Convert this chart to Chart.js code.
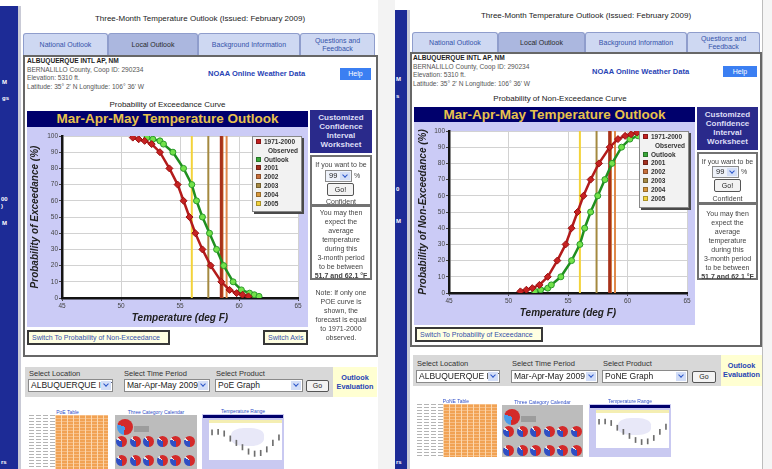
<!DOCTYPE html>
<html lang="en">
<head>
<meta charset="UTF-8">
<title>Three-Month Temperature Outlook</title>
<script src="https://cdn.jsdelivr.net/npm/chart.js@4.4.1/dist/chart.umd.min.js"></script>
<style>
  * { box-sizing: border-box; font-family: "Liberation Sans", Arial, sans-serif; }
  body { margin: 0; width: 772px; height: 469px; overflow: hidden; position: relative; background: #fff; }
  .a { position: absolute; }
  .side { background: #1d2b96; }
  .edge { background: #c9cad6; }
  .stx { color: #fff; font-size: 6px; font-weight: bold; line-height: 7px; }
  .ttl { font-size: 8px; color: #222; text-align: center; white-space: nowrap; }
  .tab { background: #ced8f2; border: 1px solid #8f9dcc; border-bottom: 0; border-radius: 3px 3px 0 0; color: #3553aa; font-size: 7px; line-height: 8px; text-align: center; display: flex; align-items: center; justify-content: center; }
  .tab.on { background: #abb7df; color: #2a2a2a; }
  .box { border: 2px solid #676767; }
  .info { font-size: 6.6px; line-height: 8.5px; color: #555; white-space: nowrap; }
  .info b { color: #1e1e1e; }
  .noaa { font-size: 7.5px; font-weight: bold; color: #2743b5; white-space: nowrap; }
  .help { background: #3b7ff2; color: #fff; font-size: 7px; text-align: center; line-height: 12px; }
  .cap { font-size: 8px; color: #222; text-align: center; white-space: nowrap; }
  .bar { background: #00006c; color: #e8c24c; font-size: 13.5px; font-weight: bold; text-align: center; white-space: nowrap; }
  canvas.plot { position: absolute; background: #cbcbf6; }
  .lg { background: #f2f2f2; border: 1px solid #888; box-shadow: 2px 2px 0 #4a4a4a; font-size: 6.5px; font-weight: bold; color: #333; line-height: 8.8px; padding: 1px 0 0 3px; white-space: nowrap; }
  .lg i { display: inline-block; width: 5px; height: 5px; margin-right: 3px; border: 1px solid rgba(0,0,0,.3); }
  .ci { background: #2a2a8b; color: #dedef6; font-size: 8px; font-weight: bold; line-height: 9px; text-align: center; padding-top: 3px; }
  .cib { border: 2px solid #727272; background: #fff; font-size: 7px; line-height: 9px; color: #444; text-align: center; }
  .note { font-size: 7px; line-height: 9px; color: #444; text-align: center; }
  .sw { background: #ffffe2; border: 2px solid #383838; color: #3451a9; font-size: 7px; line-height: 11px; padding-left: 3px; white-space: nowrap; }
  .band { background: #d8d8d8; }
  .lb { font-size: 7.5px; color: #333; white-space: nowrap; }
  .sel { background: #fff; border: 1px solid #8a8a8a; font-size: 8.5px; line-height: 11px; color: #222; padding-left: 2px; white-space: nowrap; overflow: hidden; text-align: left; }
  .sel.sm { font-size: 7.5px; line-height: 10px; background: #eef2fa; padding-left: 3px; }
  .arr { position: absolute; right: 1px; top: 1px; bottom: 1px; width: 10px; background: #d3def7; }
  .arr::after { content: ''; position: absolute; left: 3px; top: 1px; width: 3px; height: 3px; border-right: 1.5px solid #2a55c9; border-bottom: 1.5px solid #2a55c9; transform: rotate(45deg); }
  .go { background: #f3f3f3; border: 1px solid #555; border-radius: 2px; font-size: 7px; text-align: center; color: #222; }
  .eval { background: #ffffd2; color: #2744b5; font-size: 7.3px; font-weight: bold; text-align: center; line-height: 9px; padding-top: 6px; }
  .tl { font-size: 5px; color: #3250c8; text-align: center; white-space: nowrap; }
</style>
</head>
<body>

<!-- left page -->
<div class="a side" style="left:0;top:6px;width:18px;height:463px"></div>
<div class="a edge" style="left:18px;top:6px;width:3px;height:463px"></div>
<div class="a stx" style="left:2px;top:79px">M</div>
<div class="a stx" style="left:2px;top:95px">gs</div>
<div class="a stx" style="left:1px;top:196px">00<br>)</div>
<div class="a stx" style="left:2px;top:220px">M</div>
<div class="a stx" style="left:1px;top:459px">rs</div>
<div class="a" style="left:378px;top:0;width:17px;height:469px;background:#f3f3f3"></div>

<div class="a ttl" style="left:23px;top:14px;width:354px">Three-Month Temperature Outlook (Issued: February 2009)</div>
<div class="a tab" style="left:23px;top:33px;width:85px;height:22px">National Outlook</div>
<div class="a tab on" style="left:108px;top:33px;width:90px;height:22px">Local Outlook</div>
<div class="a tab" style="left:198px;top:33px;width:102px;height:22px">Background Information</div>
<div class="a tab" style="left:300px;top:33px;width:75px;height:22px">Questions and<br>Feedback</div>
<div class="a box" style="left:23px;top:55px;width:355px;height:302px"></div>
<div class="a info" style="left:27px;top:57px"><b>ALBUQUERQUE INTL AP, NM</b><br>BERNALILLO County, Coop ID: 290234<br>Elevation: 5310 ft.<br>Latitude: 35° 2' N Longitude: 106° 36' W</div>
<div class="a noaa" style="left:208px;top:69px">NOAA Online Weather Data</div>
<div class="a help" style="left:340px;top:68px;width:31px;height:12px">Help</div>
<div class="a cap" style="left:27px;top:100px;width:281px">Probability of Exceedance Curve</div>
<div class="a bar" style="left:27px;top:111px;width:281px;height:16px;line-height:16px">Mar-Apr-May Temperature Outlook</div>
<canvas id="poe" class="plot" width="281" height="200" style="left:27px;top:127px"></canvas>
<div id="poeLegend" class="a lg" style="left:252px;top:136px;width:50px;height:76px"></div>

<div class="a ci" style="left:310px;top:110px;width:62px;height:43px">Customized<br>Confidence<br>Interval<br>Worksheet</div>
<div class="a cib" style="left:310px;top:155px;width:62px;height:51px">
  <div class="a" style="left:0;top:3px;width:58px">If you want to be</div>
  <div class="a sel sm" style="left:13px;top:13px;width:27px;height:12px">99<span class="arr"></span></div>
  <div class="a" style="left:42px;top:14px">%</div>
  <div class="a go" style="left:15px;top:26px;width:27px;height:13px;line-height:11px">Go!</div>
  <div class="a" style="left:0;top:40px;width:58px">Confident</div>
</div>
<div class="a cib" style="left:310px;top:205px;width:62px;height:75px;padding-top:1px">You may then<br>expect the<br>average<br>temperature<br>during this<br>3-month period<br>to be between<br><b>51.7 and 62.1 °F</b></div>
<div class="a note" style="left:310px;top:288px;width:62px">Note: If only one<br>POE curve is<br>shown, the<br>forecast is equal<br>to 1971-2000<br>observed.</div>

<div class="a sw" style="left:27px;top:330px;width:143px;height:15px">Switch To Probability of Non-Exceedance</div>
<div class="a sw" style="left:263px;top:330px;width:45px;height:15px">Switch Axis</div>

<div class="a band" style="left:25px;top:367px;width:308px;height:30px"></div>
<div class="a lb" style="left:29px;top:369px">Select Location</div>
<div class="a lb" style="left:124px;top:369px">Select Time Period</div>
<div class="a lb" style="left:216px;top:369px">Select Product</div>
<div class="a sel" style="left:28px;top:379px;width:85px;height:13px">ALBUQUERQUE INTL<span class="arr"></span></div>
<div class="a sel" style="left:124px;top:379px;width:86px;height:13px">Mar-Apr-May 2009<span class="arr"></span></div>
<div class="a sel" style="left:215px;top:379px;width:88px;height:13px">PoE Graph<span class="arr"></span></div>
<div class="a go" style="left:306px;top:380px;width:23px;height:12px;line-height:10px">Go</div>
<div class="a eval" style="left:333px;top:367px;width:44px;height:30px">Outlook<br>Evaluation</div>

<!-- right page -->
<div class="a side" style="left:395px;top:10px;width:12px;height:459px"></div>
<div class="a edge" style="left:407px;top:10px;width:3px;height:459px"></div>
<div class="a stx" style="left:396px;top:76px">M</div>
<div class="a stx" style="left:396px;top:93px">s</div>
<div class="a stx" style="left:396px;top:186px">0</div>
<div class="a stx" style="left:396px;top:218px">M</div>
<div class="a stx" style="left:396px;top:459px">rs</div>
<div class="a" style="left:762px;top:0;width:10px;height:469px;background:#f5f5f5;border-left:1px solid #bdbdbd"></div>

<div class="a ttl" style="left:410px;top:11px;width:352px">Three-Month Temperature Outlook (Issued: February 2009)</div>
<div class="a tab" style="left:412px;top:32px;width:86px;height:20px">National Outlook</div>
<div class="a tab on" style="left:498px;top:32px;width:87px;height:20px">Local Outlook</div>
<div class="a tab" style="left:585px;top:32px;width:102px;height:20px">Background Information</div>
<div class="a tab" style="left:687px;top:32px;width:73px;height:20px">Questions and<br>Feedback</div>
<div class="a box" style="left:410px;top:52px;width:352px;height:295px"></div>
<div class="a info" style="left:413px;top:54px"><b>ALBUQUERQUE INTL AP, NM</b><br>BERNALILLO County, Coop ID: 290234<br>Elevation: 5310 ft.<br>Latitude: 35° 2' N Longitude: 106° 36' W</div>
<div class="a noaa" style="left:592px;top:67px">NOAA Online Weather Data</div>
<div class="a help" style="left:723px;top:66px;width:34px;height:11px;line-height:11px">Help</div>
<div class="a cap" style="left:414px;top:94px;width:292px">Probability of Non-Exceedance Curve</div>
<div class="a bar" style="left:414px;top:107px;width:281px;height:15px;line-height:15px">Mar-Apr-May Temperature Outlook</div>
<canvas id="pone" class="plot" width="281" height="203" style="left:414px;top:122px"></canvas>
<div id="poneLegend" class="a lg" style="left:639px;top:131px;width:50px;height:77px"></div>

<div class="a ci" style="left:697px;top:107px;width:61px;height:43px">Customized<br>Confidence<br>Interval<br>Worksheet</div>
<div class="a cib" style="left:697px;top:152px;width:61px;height:52px">
  <div class="a" style="left:0;top:3px;width:57px">If you want to be</div>
  <div class="a sel sm" style="left:13px;top:12px;width:27px;height:12px">99<span class="arr"></span></div>
  <div class="a" style="left:42px;top:13px">%</div>
  <div class="a go" style="left:15px;top:25px;width:27px;height:13px;line-height:11px">Go!</div>
  <div class="a" style="left:0;top:40px;width:57px">Confident</div>
</div>
<div class="a cib" style="left:697px;top:203px;width:61px;height:77px;padding-top:4px">You may then<br>expect the<br>average<br>temperature<br>during this<br>3-month period<br>to be between<br><b>51.7 and 62.1 °F</b></div>

<div class="a sw" style="left:415px;top:327px;width:128px;height:15px">Switch To Probability of Exceedance</div>

<div class="a band" style="left:413px;top:355px;width:308px;height:31px"></div>
<div class="a lb" style="left:417px;top:359px">Select Location</div>
<div class="a lb" style="left:512px;top:359px">Select Time Period</div>
<div class="a lb" style="left:603px;top:359px">Select Product</div>
<div class="a sel" style="left:416px;top:370px;width:84px;height:13px">ALBUQUERQUE INTL<span class="arr"></span></div>
<div class="a sel" style="left:511px;top:370px;width:87px;height:13px">Mar-Apr-May 2009<span class="arr"></span></div>
<div class="a sel" style="left:602px;top:370px;width:86px;height:13px">PoNE Graph<span class="arr"></span></div>
<div class="a go" style="left:692px;top:371px;width:24px;height:12px;line-height:10px">Go</div>
<div class="a eval" style="left:721px;top:355px;width:41px;height:31px">Outlook<br>Evaluation</div>

<script>
  Chart.defaults.font.family = '"Liberation Sans", Arial, sans-serif';

  // exceedance probability in %
  const probExceed = [99, 98, 97, 95, 90, 80, 70, 60, 50, 40, 30, 20, 10, 5, 3, 2, 1];
  const probNonExceed = [1, 2, 3, 5, 10, 20, 30, 40, 50, 60, 70, 80, 90, 95, 97, 98, 99];
  const tempObserved = [51.0, 51.5, 52.0, 52.6, 53.3, 54.1, 54.8, 55.3, 55.8, 56.3, 56.9, 57.6, 58.5, 59.2, 59.8, 60.3, 60.8];
  const tempOutlook = [52.2, 52.7, 53.3, 53.6, 54.4, 55.3, 56.0, 56.4, 56.9, 57.5, 58.1, 58.7, 59.5, 60.2, 60.9, 61.3, 61.7];
  const years = ['2001', '2002', '2003', '2004', '2005'];
  const yearTemps = [58.5, 58.95, 57.4, 58.6, 56.0];
  const xTicks = [45, 50, 55, 60, 65];
  const yTicks = [0, 10, 20, 30, 40, 50, 60, 70, 80, 90, 100];

  // thumbnails
  const calendarAbove = [62, 60, 58, 61, 63, 64, 60, 58, 62, 60, 63, 61];
  const rangeLow = [70, 71, 66, 52, 40, 28, 16, 10, 12, 22, 40, 55];
  const rangeHigh = [84, 85, 81, 67, 55, 43, 31, 25, 27, 37, 55, 70];

  const yearColors = ['#a8321a', '#e0894a', '#a4893f', '#d4762e', '#f3d33a'];
  const yearWidths = [3, 2, 2, 2, 2];

  const plotBg = {
    id: 'plotBg',
    beforeDraw(chart) {
      const {ctx, chartArea: a} = chart;
      ctx.save();
      ctx.fillStyle = '#fff';
      ctx.fillRect(a.left, a.top, a.right - a.left, a.bottom - a.top);
      ctx.restore();
    }
  };

  function pairs(xs, ys) {
    return xs.map((x, i) => ({x: x, y: ys[i]}));
  }

  function outlookChart(id, probs, yTitle, pad) {
    const datasets = [
      {
        label: '1971-2000 Observed', data: pairs(tempObserved, probs), showLine: true,
        borderColor: '#b31b1b', borderWidth: 2.5, pointStyle: 'rectRot', pointRadius: 3.5,
        pointBackgroundColor: '#c62222', pointBorderColor: '#9a1010', pointBorderWidth: 1
      },
      {
        label: 'Outlook', data: pairs(tempOutlook, probs), showLine: true,
        borderColor: '#1f8f1f', borderWidth: 2.5, pointStyle: 'circle', pointRadius: 3,
        pointBackgroundColor: '#72e24a', pointBorderColor: '#2b9b2b', pointBorderWidth: 1
      }
    ];
    years.forEach((yr, i) => datasets.push({
      label: yr, data: [{x: yearTemps[i], y: 0}, {x: yearTemps[i], y: 100}], showLine: true,
      borderColor: yearColors[i], borderWidth: yearWidths[i], pointRadius: 0
    }));

    return new Chart(id, {
      type: 'scatter',
      data: {datasets: datasets},
      options: {
        responsive: false,
        animation: false,
        events: [],
        layout: {padding: {top: 9, right: pad.right, left: 0, bottom: 0}},
        plugins: {legend: {display: false}, tooltip: {enabled: false}},
        scales: {
          x: {
            type: 'linear', min: 45, max: 65,
            afterBuildTicks: s => { s.ticks = xTicks.map(v => ({value: v})); },
            afterFit: s => { s.height = pad.xh; },
            ticks: {font: {size: 6.5}, color: '#444', padding: 1},
            grid: {color: '#d2d2d2', tickColor: '#444', tickLength: 3},
            border: {color: '#141414', width: 2.5},
            title: {display: true, text: 'Temperature (deg F)', color: '#222',
              font: {size: 10, weight: 'bold', style: 'italic'}, padding: {bottom: pad.xt}}
          },
          y: {
            min: 0, max: 100,
            afterBuildTicks: s => { s.ticks = yTicks.map(v => ({value: v})); },
            afterFit: s => { s.width = 35; },
            ticks: {font: {size: 6.5}, color: '#444', padding: 1},
            grid: {color: '#d2d2d2', tickColor: '#444', tickLength: 3},
            border: {color: '#141414', width: 2.5},
            title: {display: true, text: yTitle, color: '#222',
              font: {size: 10, weight: 'bold', style: 'italic'}, padding: {top: pad.yt}}
          }
        }
      },
      plugins: [plotBg]
    });
  }

  function legend(id) {
    const rows = ['<div><i style="background:#c21f1f"></i>1971-2000</div>',
      '<div style="padding-left:12px">Observed</div>',
      '<div><i style="background:#3aa83a"></i>Outlook</div>'];
    const sq = ['#a43020', '#c8703c', '#a68a44', '#d8983c', '#f3d23c'];
    years.forEach((yr, i) => rows.push('<div><i style="background:' + sq[i] + '"></i>' + yr + '</div>'));
    document.getElementById(id).innerHTML = rows.join('');
  }

  outlookChart('poe', probExceed, 'Probability of Exceedance (%)', {right: 10, xh: 29, xt: 3, yt: 2});
  outlookChart('pone', probNonExceed, 'Probability of Non-Exceedance (%)', {right: 8, xh: 32, xt: 6, yt: 3});
  legend('poeLegend');
  legend('poneLegend');

  // small product thumbnails under the form
  function el(parent, cls, css, html) {
    const d = document.createElement('div');
    d.className = cls;
    d.style.cssText = css;
    if (html) d.innerHTML = html;
    parent.appendChild(d);
    return d;
  }

  function tableThumb(x, y, w, h, label) {
    el(document.body, 'a tl', `left:${x}px;top:${y - 6}px;width:${w}px`, label);
    el(document.body, 'a', `left:${x}px;top:${y}px;width:28px;height:${h}px;background:repeating-linear-gradient(90deg,#fff 0 2px,transparent 2px 7px),repeating-linear-gradient(180deg,#b4b4b4 0 1px,#fff 1px 3px)`);
    el(document.body, 'a', `left:${x + 28}px;top:${y}px;width:${w - 28}px;height:${h}px;background:repeating-linear-gradient(90deg,#fcd8ad 0 1px,transparent 1px 6px),repeating-linear-gradient(180deg,#f7bd84 0 1px,#f1a253 1px 3px)`);
  }

  function calendarThumb(x, y, w, h, label) {
    el(document.body, 'a tl', `left:${x}px;top:${y - 6}px;width:${w}px`, label);
    const box = el(document.body, 'a', `left:${x}px;top:${y}px;width:${w}px;height:${h}px;background:#bcbcbc`);
    el(box, 'a', 'left:2px;top:4px;width:16px;height:16px;border-radius:50%;background:conic-gradient(from 190deg,#4a9be9 0 28%,#d42a2a 28% 100%)');
    el(box, 'a', 'left:19px;top:11px;width:15px;height:6px;background:#9c9c9c');
    calendarAbove.forEach((p, i) => {
      const col = i % 6, row = Math.floor(i / 6);
      const b = 100 - p - 6;
      el(box, 'a', `left:${1 + col * 13.5}px;top:${21 + row * 19}px;width:11px;height:11px;border-radius:50%;background:conic-gradient(from 180deg,#2f4fc4 0 ${b}%,#e6e6e6 ${b}% ${b + 6}%,#d42a2a ${b + 6}% 100%)`);
    });
  }

  function rangeThumb(x, y, w, h, label) {
    el(document.body, 'a tl', `left:${x}px;top:${y - 6}px;width:${w}px`, label);
    const box = el(document.body, 'a', `left:${x}px;top:${y}px;width:${w}px;height:${h}px;background:#c9c9f1`);
    el(box, 'a', `left:1px;top:1px;width:${w - 2}px;height:3px;background:#00006c`);
    const pw = w - 9, ph = h - 15;
    const plot = el(box, 'a', `left:7px;top:6px;width:${pw}px;height:${ph}px;background:#fff`);
    el(plot, 'a', `left:0;top:0;width:${pw}px;height:3px;background:#f4eeb2`);
    el(plot, 'a', `left:${pw * 0.3}px;top:${ph * 0.2}px;width:${pw * 0.45}px;height:${ph * 0.45}px;border-radius:40%;background:#e8e8f8`);
    const cv = document.createElement('canvas');
    cv.width = pw; cv.height = ph - 4;
    cv.style.cssText = 'position:absolute;left:0;top:4px';
    plot.appendChild(cv);
    new Chart(cv, {
      type: 'bar',
      data: {
        labels: rangeLow.map((v, i) => i),
        datasets: [{data: rangeLow.map((v, i) => [v, rangeHigh[i]]), backgroundColor: '#6e6e6e', barThickness: 1}]
      },
      options: {
        responsive: false, animation: false, events: [],
        plugins: {legend: {display: false}, tooltip: {enabled: false}},
        scales: {x: {display: false}, y: {display: false, min: 0, max: 100}}
      }
    });
  }

  tableThumb(27, 415, 81, 54, 'PoE Table');
  calendarThumb(115, 415, 82, 54, 'Three Category Calendar');
  rangeThumb(202, 414, 82, 55, 'Temperature Range');

  tableThumb(415, 404, 82, 53, 'PoNE Table');
  calendarThumb(502, 405, 81, 52, 'Three Category Calendar');
  rangeThumb(589, 404, 82, 53, 'Temperature Range');
</script>
</body>
</html>
